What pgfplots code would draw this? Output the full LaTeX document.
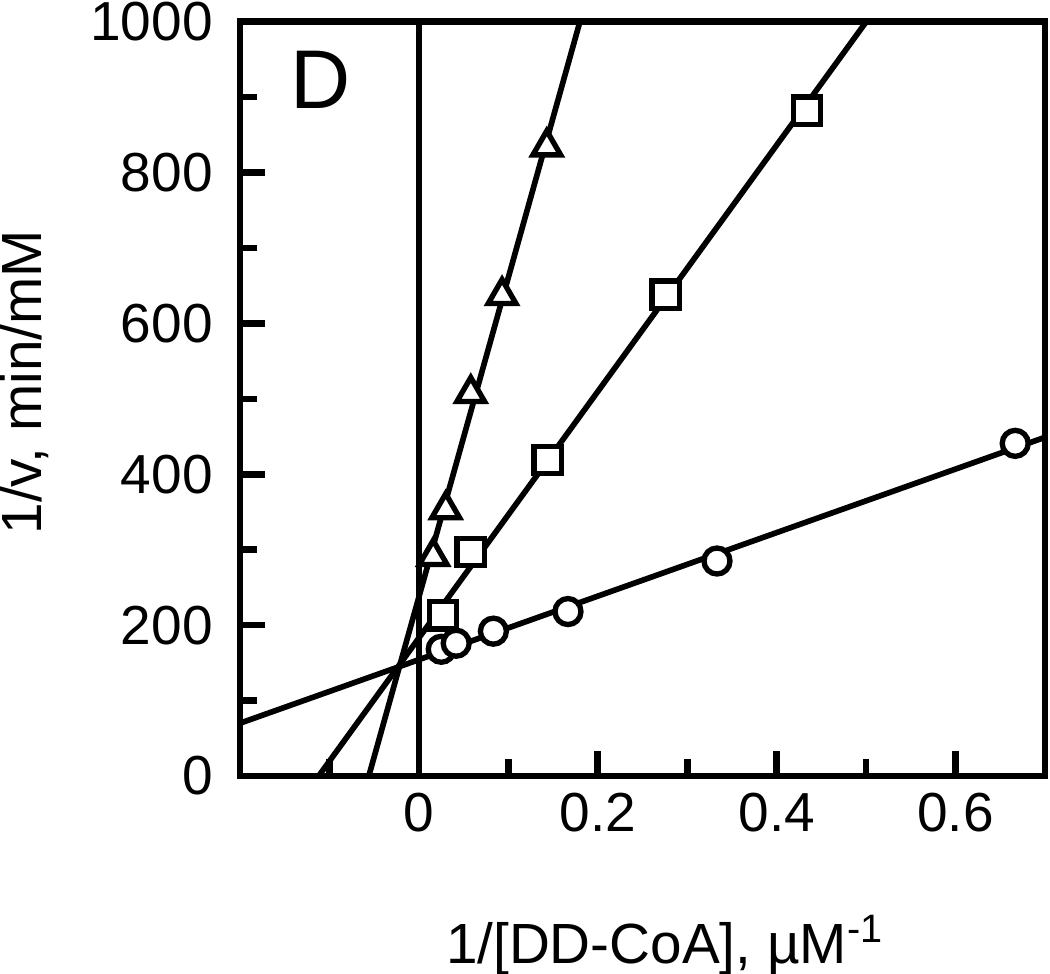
\documentclass[border=0pt]{standalone}
\usepackage{pgfplots}
\pgfplotsset{compat=1.18}
\usepackage{fontspec}
\setmainfont{Liberation Sans}
\begin{document}
\begin{tikzpicture}
\useasboundingbox (-72pt,-59.1pt) rectangle (243pt,232.8pt);
\begin{axis}[
  at={(0,0)}, anchor=south west,
  width=241.5pt, height=226.3pt, scale only axis,
  xmin=-0.2, xmax=0.7, ymin=0, ymax=1000,
  axis line style={line width=2pt},
  every tick/.style={line width=2pt, black},
  major tick length=7.5pt, minor tick length=5pt,
  tick pos=left, tick align=inside,
  xtick={0,0.2,0.4,0.6}, minor xtick={-0.1,0.1,0.3,0.5},
  ytick={0,200,400,600,800,1000}, minor ytick={100,300,500,700,900},
  /pgf/number format/assume math mode=true,
  /pgf/number format/1000 sep={},
  xticklabel style={font=\fontsize{16.5}{19}\selectfont, inner sep=0pt, anchor=north, yshift=-5pt, /pgf/number format/fixed, /pgf/number format/precision=1},
  yticklabel style={font=\fontsize{16.5}{19}\selectfont, inner sep=0pt, anchor=east, xshift=-8pt},
  xlabel={1/[DD-CoA], µM\textsuperscript{-1}},
  ylabel={1/v, min/mM},
  xlabel style={at={(axis description cs:0.528,-0.248)}, anchor=base, inner sep=0pt, font=\fontsize{17}{20}\selectfont},
  ylabel style={at={(axis description cs:-0.246,0.522)}, anchor=base, inner sep=0pt, rotate=0, font=\fontsize{17}{20}\selectfont},
]
% fitted lines
\addplot[line width=1.7pt, black] coordinates {(-0.2,70) (0.7,449)};
\addplot[line width=1.7pt, black] coordinates {(-0.12,-13) (0.51,1016)};
\addplot[line width=1.7pt, black] coordinates {(-0.06,-17) (0.185,1021)};
% zero line
\addplot[line width=2pt, black] coordinates {(0,0) (0,1000)};
% circles
\addplot[only marks, mark=*, mark size=3.9pt, mark options={draw=black, fill=white, line width=1.6pt}]
  coordinates {(0.025,168) (0.0417,176) (0.0833,192) (0.1667,218) (0.3333,285) (0.6667,441)};
% squares
\addplot[only marks, mark=square*, mark size=4.1pt, mark options={draw=black, fill=white, line width=1.6pt}]
  coordinates {(0.027,213) (0.058,297) (0.144,419) (0.276,638) (0.434,882)};
% triangles
\addplot[only marks, mark=triangle*, mark size=4.8pt, mark options={draw=black, fill=white, line width=1.6pt}]
  coordinates {(0.016,291) (0.030,353) (0.058,507) (0.093,637) (0.143,834)};
\node[anchor=base west, inner sep=0pt, font=\fontsize{25}{30}\selectfont] at (axis description cs:0.0625,0.885) {D};
\end{axis}
\end{tikzpicture}
\end{document}
